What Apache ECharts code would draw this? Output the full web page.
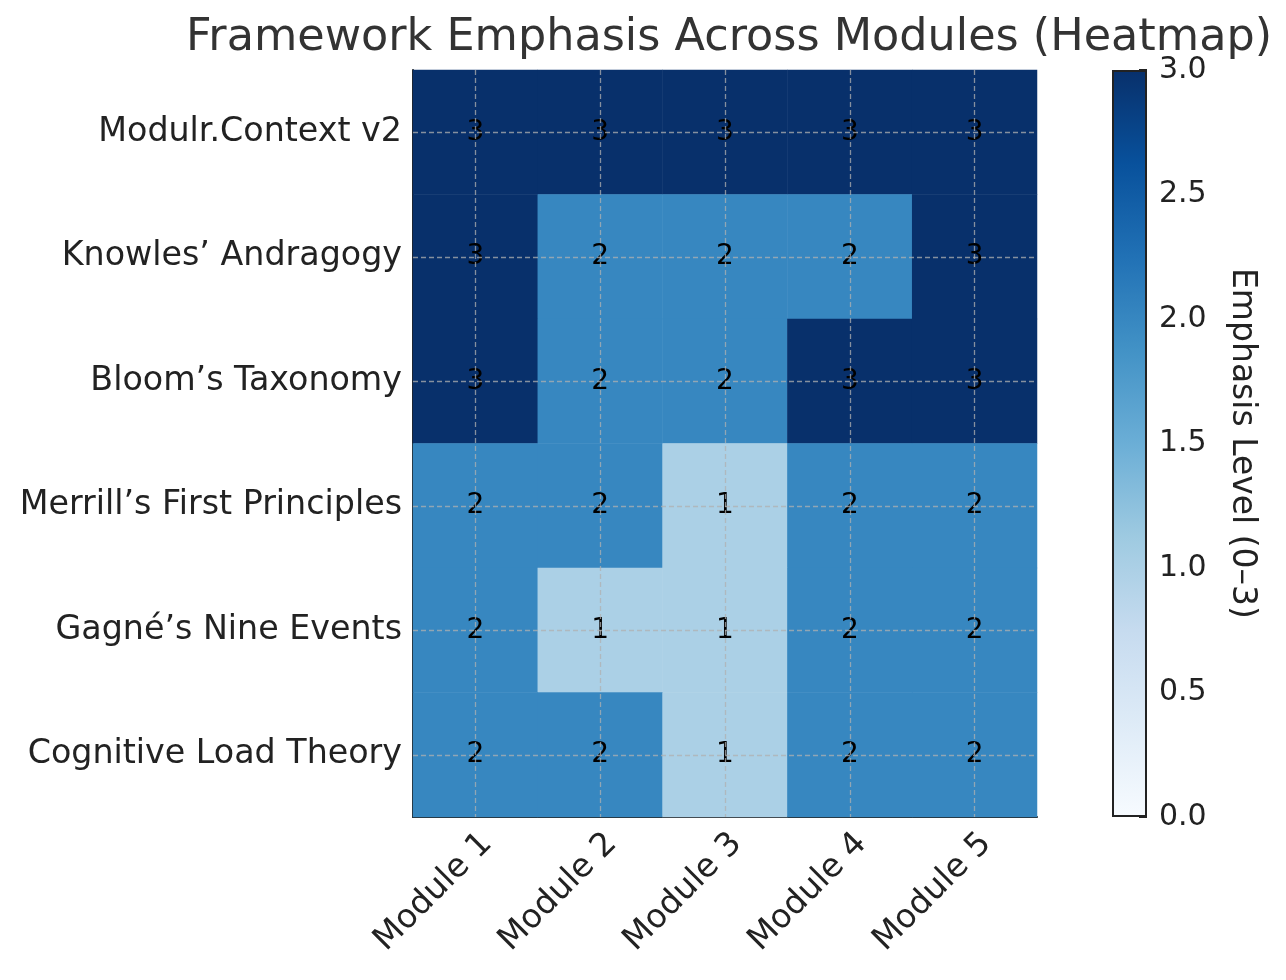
<!DOCTYPE html>
<html>
<head>
<meta charset="utf-8">
<script src="https://cdn.jsdelivr.net/npm/echarts@6/dist/echarts.min.js"></script>
<style>
html,body{margin:0;padding:0;background:#fff;}
#chart{width:1286px;height:980px;}
</style>
</head>
<body>
<div id="chart"></div>
<script>
const modules = ['Module 1', 'Module 2', 'Module 3', 'Module 4', 'Module 5'];
const frameworks = ['Modulr.Context v2', 'Knowles\u2019 Andragogy', 'Bloom\u2019s Taxonomy', 'Merrill\u2019s First Principles', 'Gagn\u00e9\u2019s Nine Events', 'Cognitive Load Theory'];
const modulrContext = [3, 3, 3, 3, 3];
const knowles = [3, 2, 2, 2, 3];
const bloom = [3, 2, 2, 3, 3];
const merrill = [2, 2, 1, 2, 2];
const gagne = [2, 1, 1, 2, 2];
const cognitiveLoad = [2, 2, 1, 2, 2];
const colorbarTicks = [0, 0.5, 1, 1.5, 2, 2.5, 3];

const rows = [modulrContext, knowles, bloom, merrill, gagne, cognitiveLoad];
const data = [];
rows.forEach((r, yi) => r.forEach((v, xi) => data.push([xi, yi, v])));

const blues = ['#f7fbff', '#deebf7', '#c6dbef', '#9ecae1', '#6baed6', '#4292c6', '#2171b5', '#08519c', '#08306b'];
const font = 'DejaVu Sans';
const gridLine = {color: 'rgba(176,176,176,0.75)', width: 1.3, type: [5, 3]};

const chart = echarts.init(document.getElementById('chart'));
chart.setOption({
  backgroundColor: '#fff',
  animation: false,
  textStyle: {fontFamily: font},
  title: {
    text: 'Framework Emphasis Across Modules (Heatmap)',
    left: 724, top: 11, textAlign: 'center',
    textStyle: {fontFamily: font, fontSize: 44.5, fontWeight: 'normal', color: '#333'}
  },
  grid: [
    {left: 413, top: 70, width: 624, height: 747},
    {left: 1112, top: 70, width: 35, height: 747}
  ],
  visualMap: {
    show: false, type: 'continuous', min: 0, max: 3, seriesIndex: 0,
    inRange: {color: blues}
  },
  xAxis: [
    {
      type: 'category', data: modules, gridIndex: 0,
      axisLine: {show: true, lineStyle: {color: '#222', width: 2}},
      axisTick: {show: true, inside: true, alignWithLabel: true, length: 8, lineStyle: {color: '#222', width: 2}},
      axisLabel: {rotate: 45, fontSize: 33, color: '#222', margin: 10, verticalAlign: 'top', fontFamily: font},
      splitLine: {show: false}
    },
    {
      type: 'category', data: [''], gridIndex: 1, show: false
    }
  ],
  yAxis: [
    {
      type: 'category', data: frameworks, inverse: true, gridIndex: 0,
      axisLine: {show: true, lineStyle: {color: '#222', width: 2}},
      axisTick: {show: true, inside: true, alignWithLabel: true, length: 8, lineStyle: {color: '#222', width: 2}},
      axisLabel: {fontSize: 33.3, color: '#222', margin: 11, fontFamily: font},
      splitLine: {show: false}
    },
    {
      type: 'value', gridIndex: 1, min: 0, max: 3, interval: 0.5, position: 'right',
      axisLine: {show: false},
      axisTick: {show: true, inside: true, length: 8, lineStyle: {color: '#222', width: 2}},
      axisLabel: {fontSize: 30, color: '#222', margin: 12, fontFamily: font, formatter: v => v.toFixed(1)},
      splitLine: {show: false},
      name: 'Emphasis Level (0\u20133)', nameLocation: 'middle', nameRotate: -90, nameGap: 78,
      nameTextStyle: {fontSize: 33, color: '#222', fontFamily: font}
    }
  ],
  series: [
    {
      type: 'heatmap', xAxisIndex: 0, yAxisIndex: 0, data: data,
      label: {show: true, color: '#000', fontSize: 28, fontFamily: font},
      itemStyle: {borderWidth: 0},
      emphasis: {disabled: true},
      markLine: {
        silent: true, symbol: 'none', label: {show: false},
        lineStyle: gridLine,
        data: modules.map(m => ({xAxis: m})).concat(frameworks.map(f => ({yAxis: f})))
      }
    },
    {
      type: 'bar', xAxisIndex: 1, yAxisIndex: 1, data: [colorbarTicks[colorbarTicks.length - 1]],
      barWidth: '100%', silent: true,
      itemStyle: {
        borderColor: '#222', borderWidth: 2,
        color: new echarts.graphic.LinearGradient(0, 0, 0, 1,
          blues.slice().reverse().map((c, i) => ({offset: i / (blues.length - 1), color: c})))
      }
    }
  ]
});
</script>
</body>
</html>
